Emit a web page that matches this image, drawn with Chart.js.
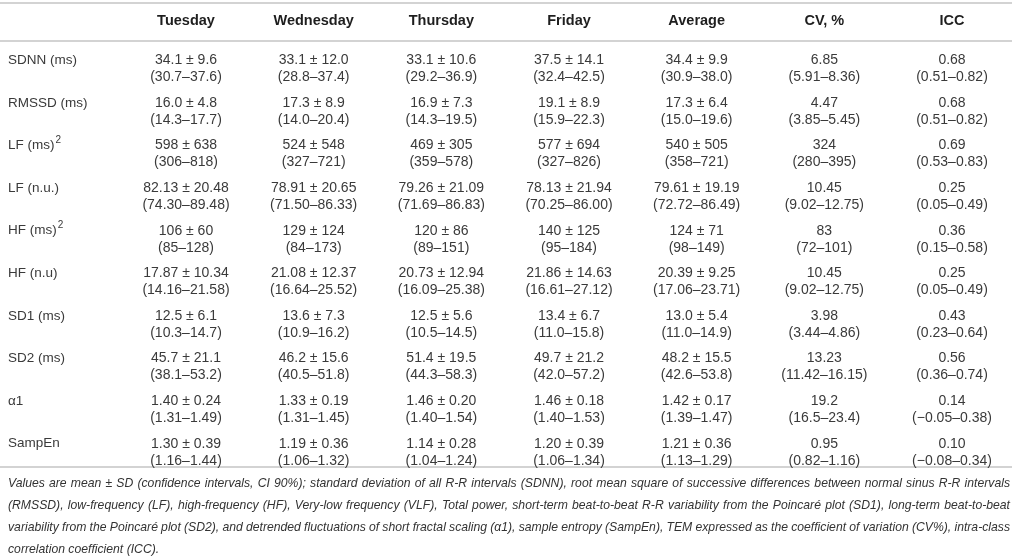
<!DOCTYPE html>
<html>
<head>
<meta charset="utf-8">
<title>HRV table</title>
<script src="https://cdn.jsdelivr.net/npm/chart.js@4.4.1/dist/chart.umd.min.js"></script>
<style>
	html, body { margin: 0; padding: 0; background: #fff; }
	#wrap { width: 1016px; height: 557px; }
</style>
</head>
<body>
<div id="wrap"><canvas id="draw"></canvas></div>
<script>
const columns = ["Tuesday", "Wednesday", "Thursday", "Friday", "Average", "CV, %", "ICC"];
const rows = ["SDNN (ms)", "RMSSD (ms)", "LF (ms)", "LF (n.u.)", "HF (ms)", "HF (n.u)", "SD1 (ms)", "SD2 (ms)", "\u03B11", "SampEn"];
const rowSup = ["", "", "2", "", "2", "", "", "", "", ""];
const rowDecimals = [1, 1, 0, 2, 0, 2, 1, 1, 2, 2];

// [mean, sd, ci low, ci high]
const tuesday = [[34.1, 9.6, 30.7, 37.6], [16.0, 4.8, 14.3, 17.7], [598, 638, 306, 818], [82.13, 20.48, 74.30, 89.48], [106, 60, 85, 128], [17.87, 10.34, 14.16, 21.58], [12.5, 6.1, 10.3, 14.7], [45.7, 21.1, 38.1, 53.2], [1.40, 0.24, 1.31, 1.49], [1.30, 0.39, 1.16, 1.44]];
const wednesday = [[33.1, 12.0, 28.8, 37.4], [17.3, 8.9, 14.0, 20.4], [524, 548, 327, 721], [78.91, 20.65, 71.50, 86.33], [129, 124, 84, 173], [21.08, 12.37, 16.64, 25.52], [13.6, 7.3, 10.9, 16.2], [46.2, 15.6, 40.5, 51.8], [1.33, 0.19, 1.31, 1.45], [1.19, 0.36, 1.06, 1.32]];
const thursday = [[33.1, 10.6, 29.2, 36.9], [16.9, 7.3, 14.3, 19.5], [469, 305, 359, 578], [79.26, 21.09, 71.69, 86.83], [120, 86, 89, 151], [20.73, 12.94, 16.09, 25.38], [12.5, 5.6, 10.5, 14.5], [51.4, 19.5, 44.3, 58.3], [1.46, 0.20, 1.40, 1.54], [1.14, 0.28, 1.04, 1.24]];
const friday = [[37.5, 14.1, 32.4, 42.5], [19.1, 8.9, 15.9, 22.3], [577, 694, 327, 826], [78.13, 21.94, 70.25, 86.00], [140, 125, 95, 184], [21.86, 14.63, 16.61, 27.12], [13.4, 6.7, 11.0, 15.8], [49.7, 21.2, 42.0, 57.2], [1.46, 0.18, 1.40, 1.53], [1.20, 0.39, 1.06, 1.34]];
const average = [[34.4, 9.9, 30.9, 38.0], [17.3, 6.4, 15.0, 19.6], [540, 505, 358, 721], [79.61, 19.19, 72.72, 86.49], [124, 71, 98, 149], [20.39, 9.25, 17.06, 23.71], [13.0, 5.4, 11.0, 14.9], [48.2, 15.5, 42.6, 53.8], [1.42, 0.17, 1.39, 1.47], [1.21, 0.36, 1.13, 1.29]];

// [value, ci low, ci high]
const cv = [[6.85, 5.91, 8.36], [4.47, 3.85, 5.45], [324, 280, 395], [10.45, 9.02, 12.75], [83, 72, 101], [10.45, 9.02, 12.75], [3.98, 3.44, 4.86], [13.23, 11.42, 16.15], [19.2, 16.5, 23.4], [0.95, 0.82, 1.16]];
const cvDecimals = [2, 2, 0, 2, 0, 2, 2, 2, 1, 2];
const icc = [[0.68, 0.51, 0.82], [0.68, 0.51, 0.82], [0.69, 0.53, 0.83], [0.25, 0.05, 0.49], [0.36, 0.15, 0.58], [0.25, 0.05, 0.49], [0.43, 0.23, 0.64], [0.56, 0.36, 0.74], [0.14, -0.05, 0.38], [0.10, -0.08, 0.34]];

const footnote = [
	"Values are mean \u00B1 SD (confidence intervals, CI 90%); standard deviation of all R-R intervals (SDNN), root mean square of successive differences between normal sinus R-R intervals",
	"(RMSSD), low-frequency (LF), high-frequency (HF), Very-low frequency (VLF), Total power, short-term beat-to-beat R-R variability from the Poincar\u00E9 plot (SD1), long-term beat-to-beat",
	"variability from the Poincar\u00E9 plot (SD2), and detrended fluctuations of short fractal scaling (\u03B11), sample entropy (SampEn), TEM expressed as the coefficient of variation (CV%), intra-class",
	"correlation coefficient (ICC).",
];

const FONT = '"Liberation Sans", Arial, sans-serif';

function fmt(v, d) {
	const s = Math.abs(v).toFixed(d);
	return v < 0 ? "\u2212" + s : s;
}

// two text lines for every cell
function meanCell(r, i) {
	const d = rowDecimals[i];
	return [fmt(r[0], d) + " \u00B1 " + fmt(r[1], d), "(" + fmt(r[2], d) + "\u2013" + fmt(r[3], d) + ")"];
}
function valueCell(r, d) {
	return [fmt(r[0], d), "(" + fmt(r[1], d) + "\u2013" + fmt(r[2], d) + ")"];
}

const cellText = [
	tuesday.map(meanCell),
	wednesday.map(meanCell),
	thursday.map(meanCell),
	friday.map(meanCell),
	average.map(meanCell),
	cv.map((r, i) => valueCell(r, cvDecimals[i])),
	icc.map((r) => valueCell(r, 2)),
];

const datasets = columns.map((col, c) => ({
	label: col,
	data: rows.map((row) => ({ x: col, y: row })),
	lines: cellText[c],
	pointRadius: 0,
	pointHoverRadius: 0,
}));

const tableText = {
	id: "tableText",
	afterDatasetsDraw(chart) {
		const ctx = chart.ctx;
		const area = chart.chartArea;
		const xs = chart.scales.x;
		const ys = chart.scales.y;
		ctx.save();

		// horizontal rules
		ctx.strokeStyle = "#c4c4c4";
		ctx.lineWidth = 1.6;
		[3, area.top, area.bottom].forEach((yy) => {
			ctx.beginPath();
			ctx.moveTo(0, yy);
			ctx.lineTo(1012, yy);
			ctx.stroke();
		});

		// header
		ctx.textBaseline = "middle";
		ctx.textAlign = "center";
		ctx.fillStyle = "#1e1e1e";
		ctx.font = "bold 14.5px " + FONT;
		columns.forEach((c, i) => ctx.fillText(c, xs.getPixelForValue(i), 21));

		// row labels
		ctx.textAlign = "left";
		ctx.fillStyle = "#3a3a3a";
		rows.forEach((r, i) => {
			const yy = ys.getPixelForValue(i) - 2;
			ctx.font = "13.5px " + FONT;
			ctx.fillText(r, 8, yy);
			if (rowSup[i]) {
				const w = ctx.measureText(r).width;
				ctx.font = "10px " + FONT;
				ctx.fillText(rowSup[i], 8 + w + 1, yy - 5);
			}
		});

		// cells
		ctx.textAlign = "center";
		ctx.font = "14px " + FONT;
		chart.data.datasets.forEach((ds, di) => {
			chart.getDatasetMeta(di).data.forEach((pt, ri) => {
				const lines = ds.lines[ri];
				ctx.fillText(lines[0], pt.x, pt.y - 2);
				ctx.fillText(lines[1], pt.x, pt.y + 15);
			});
		});

		// footnote, justified and condensed to fit
		ctx.font = "italic 13px " + FONT;
		ctx.textAlign = "left";
		ctx.fillStyle = "#333";
		const left = 8, right = 1010, minGap = 3.4;
		let squeeze = 1;
		footnote.slice(0, -1).forEach((line) => {
			const words = line.split(" ");
			const need = words.reduce((s, w) => s + ctx.measureText(w).width, 0) + minGap * (words.length - 1);
			squeeze = Math.min(squeeze, (right - left) / need);
		});
		footnote.forEach((line, i) => {
			const yy = area.bottom + 16 + i * 22;
			const words = line.split(" ");
			ctx.save();
			ctx.translate(left, yy);
			ctx.scale(squeeze, 1);
			if (i === footnote.length - 1) {
				ctx.fillText(line, 0, 0);
			} else {
				const wordsW = words.reduce((s, w) => s + ctx.measureText(w).width, 0);
				const gap = ((right - left) / squeeze - wordsW) / (words.length - 1);
				let xx = 0;
				words.forEach((w) => {
					ctx.fillText(w, xx, 0);
					xx += ctx.measureText(w).width + gap;
				});
			}
			ctx.restore();
		});

		ctx.restore();
	},
};

const config = {
	type: "scatter",
	data: { datasets: datasets },
	options: {
		responsive: true,
		maintainAspectRatio: false,
		animation: false,
		events: [],
		layout: {
			padding: { left: 186, right: 64, top: 41, bottom: 90 },
		},
		plugins: {
			legend: { display: false },
			tooltip: { enabled: false },
		},
		scales: {
			x: { type: "category", labels: columns, offset: false, display: false },
			y: { type: "category", labels: rows, offset: true, display: false },
		},
	},
	plugins: [tableText],
};

new Chart(document.getElementById("draw").getContext("2d"), config);
</script>
</body>
</html>
